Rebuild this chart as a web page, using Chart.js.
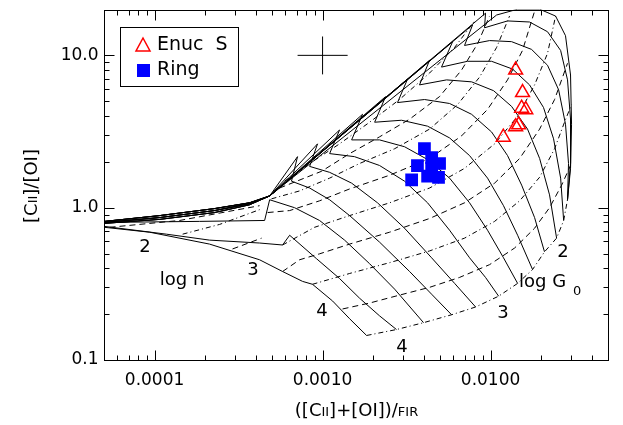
<!doctype html>
<html lang="en">
<head>
<meta charset="UTF-8">
<title>[CII]/[OI] vs ([CII]+[OI])/FIR</title>
<script src="https://cdn.jsdelivr.net/npm/chart.js"></script>
<style>
    html, body { margin: 0; padding: 0; background: #fff; }
    #wrap { width: 623px; height: 425px; position: relative; }
</style>
</head>
<body>
<div id="wrap"><canvas id="myChart"></canvas></div>
<script>
// observed ratios
var enucX = [0.0141, 0.0155, 0.0153, 0.0162, 0.0147, 0.0141, 0.0119];
var enucY = [8.0, 5.7, 4.5, 4.4, 3.5, 3.4, 2.9];
var ringX = [0.00404, 0.00446, 0.00497, 0.00367, 0.00339, 0.00422, 0.00490, 0.00446];
var ringY = [2.44, 2.13, 1.95, 1.89, 1.52, 1.61, 1.58, 1.81];

// typical error bar
var errCenter = [0.001, 10];
var errXRange = [0.00071, 0.00141];
var errYRange = [7.5, 13.3];

var xTickVals = [0.0001, 0.001, 0.01];
var xTickLabels = ['0.0001', '0.0010', '0.0100'];
var yTickVals = [0.1, 1, 10];
var yTickLabels = ['0.1', '1.0', '10.0'];

// PDR model grid, [log10 x, log10 y]
// low density tails that run into the fold (shared by the outer G0 curves)
var tails = [
    [[-4.298, -0.090], [-3.970, -0.052], [-3.643, -0.006], [-3.435, 0.032], [-3.315, 0.077]],
    [[-4.298, -0.097], [-3.970, -0.065], [-3.643, -0.019], [-3.435, 0.026], [-3.315, 0.077]],
    [[-4.298, -0.103], [-3.970, -0.077], [-3.643, -0.032], [-3.435, 0.019], [-3.315, 0.077]]
];

// constant G0 curves (solid); from the 4th on, the first point sits on the upper edge of the fold
var g0Lines = [
    [[-4.298, -0.129], [-4.030, -0.161], [-3.673, -0.239], [-3.375, -0.342], [-3.238, -0.419], [-3.119, -0.484], [-3.060, -0.503], [-2.940, -0.613], [-2.839, -0.729], [-2.738, -0.839]],
    [[-4.298, -0.123], [-3.929, -0.174], [-3.673, -0.213], [-3.375, -0.232], [-3.238, -0.245], [-3.196, -0.181], [-3.036, -0.335], [-2.899, -0.465], [-2.780, -0.594], [-2.661, -0.710], [-2.560, -0.800]],
    [[-4.298, -0.097], [-3.732, -0.090], [-3.345, -0.084], [-3.315, 0.052], [-3.167, 0.000], [-3.018, -0.084], [-2.869, -0.213], [-2.720, -0.368], [-2.571, -0.535], [-2.399, -0.755]],
    [[-3.256, 0.239], [-3.185, 0.174], [-3.077, 0.129], [-2.958, 0.052], [-2.839, -0.052], [-2.661, -0.226], [-2.482, -0.419], [-2.351, -0.568], [-2.232, -0.703]],
    [[-3.149, 0.335], [-3.077, 0.271], [-2.958, 0.232], [-2.827, 0.161], [-2.673, 0.032], [-2.512, -0.135], [-2.351, -0.329], [-2.214, -0.497], [-2.089, -0.652]],
    [[-3.030, 0.419], [-2.958, 0.355], [-2.810, 0.335], [-2.661, 0.277], [-2.512, 0.174], [-2.375, 0.032], [-2.244, -0.148], [-2.125, -0.329], [-2.030, -0.458], [-1.952, -0.581]],
    [[-2.899, 0.510], [-2.827, 0.445], [-2.661, 0.445], [-2.512, 0.400], [-2.375, 0.316], [-2.244, 0.194], [-2.125, 0.032], [-2.018, -0.148], [-1.923, -0.329], [-1.839, -0.497]],
    [[-2.762, 0.613], [-2.690, 0.561], [-2.530, 0.574], [-2.375, 0.535], [-2.244, 0.458], [-2.125, 0.342], [-2.018, 0.194], [-1.923, 0.013], [-1.839, -0.181], [-1.750, -0.406]],
    [[-2.625, 0.729], [-2.554, 0.690], [-2.393, 0.710], [-2.244, 0.684], [-2.113, 0.613], [-1.994, 0.497], [-1.899, 0.342], [-1.815, 0.148], [-1.738, -0.065], [-1.679, -0.290]],
    [[-2.494, 0.845], [-2.423, 0.806], [-2.262, 0.839], [-2.113, 0.826], [-1.982, 0.768], [-1.875, 0.665], [-1.780, 0.516], [-1.708, 0.323], [-1.649, 0.084], [-1.607, -0.200]],
    [[-2.363, 0.968], [-2.292, 0.923], [-2.137, 0.961], [-1.994, 0.961], [-1.869, 0.910], [-1.768, 0.806], [-1.685, 0.658], [-1.625, 0.452], [-1.583, 0.194], [-1.565, -0.084]],
    [[-2.226, 1.090], [-2.155, 1.065], [-2.006, 1.097], [-1.875, 1.090], [-1.756, 1.039], [-1.661, 0.935], [-1.595, 0.774], [-1.554, 0.548], [-1.536, 0.290], [-1.542, 0.052]],
    [[-2.107, 1.200], [-2.036, 1.181], [-1.899, 1.226], [-1.768, 1.219], [-1.661, 1.155], [-1.583, 1.032], [-1.542, 0.839], [-1.524, 0.581], [-1.524, 0.290], [-1.542, 0.052]],
    [[-2.030, 1.277], [-1.964, 1.265], [-1.839, 1.303], [-1.708, 1.303], [-1.613, 1.258], [-1.554, 1.129], [-1.524, 0.871], [-1.518, 0.548], [-1.524, 0.258], [-1.542, 0.052]]
];

// constant n curves (dash-dot / dashed)
var nLines = [
    [[-2.738, -0.839], [-2.560, -0.800], [-2.399, -0.755], [-2.232, -0.703], [-2.089, -0.652], [-1.952, -0.581], [-1.839, -0.497], [-1.750, -0.406], [-1.679, -0.290], [-1.607, -0.200], [-1.565, -0.084], [-1.542, 0.052]],
    [[-2.881, -0.665], [-2.720, -0.626], [-2.542, -0.574], [-2.363, -0.523], [-2.185, -0.458], [-2.006, -0.374], [-1.857, -0.265], [-1.738, -0.135], [-1.649, 0.000], [-1.577, 0.148], [-1.524, 0.277]],
    [[-3.060, -0.503], [-2.839, -0.432], [-2.601, -0.361], [-2.363, -0.284], [-2.155, -0.200], [-1.976, -0.090], [-1.827, 0.045], [-1.708, 0.200], [-1.619, 0.387], [-1.560, 0.561], [-1.518, 0.677]],
    [[-3.238, -0.419], [-3.137, -0.342], [-3.018, -0.303], [-2.839, -0.239], [-2.601, -0.161], [-2.363, -0.071], [-2.155, 0.032], [-1.976, 0.161], [-1.827, 0.323], [-1.708, 0.516], [-1.619, 0.710], [-1.542, 0.948]],
    [[-3.238, -0.245], [-3.048, -0.129], [-2.839, -0.052], [-2.601, 0.032], [-2.363, 0.129], [-2.155, 0.258], [-1.976, 0.419], [-1.839, 0.600], [-1.738, 0.806], [-1.661, 1.013], [-1.613, 1.258]],
    [[-3.327, -0.032], [-3.196, -0.019], [-3.018, 0.045], [-2.839, 0.123], [-2.601, 0.213], [-2.363, 0.323], [-2.173, 0.471], [-2.018, 0.645], [-1.899, 0.839], [-1.810, 1.032], [-1.738, 1.290]],
    [[-3.304, 0.058], [-3.137, 0.110], [-2.958, 0.194], [-2.780, 0.290], [-2.571, 0.387], [-2.363, 0.516], [-2.196, 0.677], [-2.065, 0.858], [-1.964, 1.052], [-1.887, 1.258]],
    [[-3.256, 0.129], [-3.006, 0.239], [-2.839, 0.355], [-2.661, 0.465], [-2.482, 0.581], [-2.304, 0.729], [-2.173, 0.903], [-2.077, 1.077], [-2.006, 1.258]],
    [[-3.226, 0.174], [-3.077, 0.290], [-2.899, 0.419], [-2.720, 0.561], [-2.542, 0.710], [-2.363, 0.884], [-2.214, 1.052], [-2.095, 1.226]],
    [[-4.268, -0.129], [-3.851, -0.084], [-3.375, 0.013]],
    [[-3.833, -0.174], [-3.613, -0.110], [-3.375, -0.013]],
    [[-3.536, -0.271], [-3.363, -0.200]]
];

var FONT = '"DejaVu Sans", sans-serif';

function toPts(line) {
    return line.map(function (p) { return {x: Math.pow(10, p[0]), y: Math.pow(10, p[1])}; });
}

// path of an outer G0 curve: tail, overshoot along the fold to the next curve's edge point, back to its own arc
function foldPath(k) {
    var pts = tails[k % 3].slice();
    if (k + 1 < g0Lines.length) pts.push(g0Lines[k + 1][0]);
    return pts.concat(g0Lines[k].slice(1));
}

var datasets = [];
datasets.push({
    label: 'Enuc S', order: 0,
    data: enucX.map(function (x, i) { return {x: x, y: enucY[i]}; }),
    pointStyle: 'triangle', pointRadius: 8, borderColor: '#ff0000', backgroundColor: 'rgba(0,0,0,0)',
    borderWidth: 1.5, showLine: false
});
datasets.push({
    label: 'Ring', order: 0,
    data: ringX.map(function (x, i) { return {x: x, y: ringY[i]}; }),
    pointStyle: 'rect', pointRadius: 9, borderColor: '#0000ff', backgroundColor: '#0000ff',
    borderWidth: 0, showLine: false
});
datasets.push({
    label: 'err x', order: 0, showLine: true, pointRadius: 0, borderColor: '#000', borderWidth: 1,
    data: [{x: errXRange[0], y: errCenter[1]}, {x: errXRange[1], y: errCenter[1]}]
});
datasets.push({
    label: 'err y', order: 0, showLine: true, pointRadius: 0, borderColor: '#000', borderWidth: 1,
    data: [{x: errCenter[0], y: errYRange[0]}, {x: errCenter[0], y: errYRange[1]}]
});

g0Lines.forEach(function (line, k) {
    datasets.push({
        label: 'G0 ' + k, order: 1, showLine: true, pointRadius: 0, borderColor: '#000',
        borderWidth: 1, data: toPts(k < 3 ? line : foldPath(k))
    });
});
nLines.forEach(function (line, i) {
    datasets.push({
        label: 'n ' + i, order: 1, showLine: true, pointRadius: 0, borderColor: '#000',
        borderWidth: 1, borderDash: i % 2 === 0 ? [5, 3, 1, 3] : [6, 4], data: toPts(line)
    });
});

function richText(ctx, parts, x, y, align) {
    var w = 0;
    parts.forEach(function (p) { ctx.font = p[1] + 'px ' + FONT; w += ctx.measureText(p[0]).width; });
    var cx = align === 'center' ? x - w / 2 : x;
    parts.forEach(function (p) {
        ctx.font = p[1] + 'px ' + FONT;
        ctx.fillText(p[0], cx, y + (p[2] || 0));
        cx += ctx.measureText(p[0]).width;
    });
}

var frame = {
    id: 'frame',
    afterDraw: function (chart) {
        var ctx = chart.ctx, a = chart.chartArea, xs = chart.scales.x, ys = chart.scales.y;
        ctx.save();
        ctx.strokeStyle = '#000';
        ctx.fillStyle = '#000';
        ctx.lineWidth = 1;
        var L = Math.round(a.left) + 0.5, R = Math.round(a.right) + 0.5;
        var T = Math.round(a.top) + 0.5, B = Math.round(a.bottom) + 0.5;
        ctx.strokeRect(L, T, R - L, B - T);

        // inward ticks on all four sides
        ctx.beginPath();
        var e, m, v, p, len;
        for (e = -5; e <= -1; e++) {
            for (m = 1; m < 10; m++) {
                v = m * Math.pow(10, e);
                if (v < xs.min || v > xs.max) continue;
                p = Math.round(xs.getPixelForValue(v)) + 0.5;
                len = m === 1 ? 10 : 5;
                ctx.moveTo(p, B); ctx.lineTo(p, B - len);
                ctx.moveTo(p, T); ctx.lineTo(p, T + len);
            }
        }
        for (e = -1; e <= 1; e++) {
            for (m = 1; m < 10; m++) {
                v = m * Math.pow(10, e);
                if (v < ys.min || v > ys.max) continue;
                p = Math.round(ys.getPixelForValue(v)) + 0.5;
                len = m === 1 ? 10 : 5;
                ctx.moveTo(L, p); ctx.lineTo(L + len, p);
                ctx.moveTo(R, p); ctx.lineTo(R - len, p);
            }
        }
        ctx.stroke();

        // tick labels
        ctx.font = '17px ' + FONT;
        ctx.textBaseline = 'middle';
        ctx.textAlign = 'center';
        xTickVals.forEach(function (v, i) { ctx.fillText(xTickLabels[i], xs.getPixelForValue(v), 381); });
        ctx.textAlign = 'right';
        yTickVals.forEach(function (v, i) { ctx.fillText(yTickLabels[i], L - 6, ys.getPixelForValue(v)); });

        // axis titles
        ctx.textAlign = 'left';
        ctx.textBaseline = 'alphabetic';
        richText(ctx, [['([C', 18], ['II', 13], [']+[OI])/', 18], ['FIR', 13]], (L + R) / 2, 416, 'center');
        ctx.save();
        ctx.translate(37, 186);
        ctx.rotate(-Math.PI / 2);
        richText(ctx, [['[C', 18], ['II', 13], [']/[OI]', 18]], 0, 0, 'center');
        ctx.restore();

        // grid annotations
        ctx.font = '18px ' + FONT;
        ctx.textAlign = 'center';
        ctx.textBaseline = 'middle';
        ctx.fillText('2', 145, 247);
        ctx.fillText('log n', 182, 280);
        ctx.fillText('3', 253, 270);
        ctx.fillText('4', 322, 311);
        ctx.fillText('2', 563, 252);
        ctx.fillText('3', 503, 313);
        ctx.fillText('4', 402, 347);
        ctx.textAlign = 'left';
        ctx.fillText('log G', 519, 282);
        ctx.font = '13px ' + FONT;
        ctx.fillText('0', 573, 292);

        // legend
        ctx.strokeRect(120.5, 27.5, 118, 59);
        ctx.strokeStyle = '#ff0000';
        ctx.lineWidth = 1.5;
        ctx.beginPath();
        ctx.moveTo(143, 38); ctx.lineTo(150, 51); ctx.lineTo(136, 51); ctx.closePath();
        ctx.stroke();
        ctx.fillStyle = '#0000ff';
        ctx.fillRect(137, 64, 13, 13);
        ctx.fillStyle = '#000';
        ctx.font = '19px ' + FONT;
        ctx.textAlign = 'left';
        ctx.textBaseline = 'middle';
        ctx.fillText('Enuc  S', 157, 45);
        ctx.fillText('Ring', 157, 70);
        ctx.restore();
    }
};

var ctx = document.getElementById('myChart');
var myChart = new Chart(ctx, {
    type: 'scatter',
    data: {datasets: datasets},
    options: {
        responsive: true,
        maintainAspectRatio: false,
        animation: false,
        devicePixelRatio: 1,
        layout: {padding: {top: 3, right: 15, left: 0, bottom: 0}},
        plugins: {legend: {display: false}, tooltip: {enabled: false}},
        elements: {line: {tension: 0}},
        scales: {
            x: {
                type: 'logarithmic', min: 0.00005, max: 0.05,
                grid: {display: false, drawTicks: false}, border: {display: false},
                ticks: {display: false},
                afterFit: function (s) { s.height = 65; }
            },
            y: {
                type: 'logarithmic', min: 0.1, max: 20,
                grid: {display: false, drawTicks: false}, border: {display: false},
                ticks: {display: false},
                afterFit: function (s) { s.width = 104; }
            }
        }
    },
    plugins: [frame]
});
</script>
</body>
</html>
